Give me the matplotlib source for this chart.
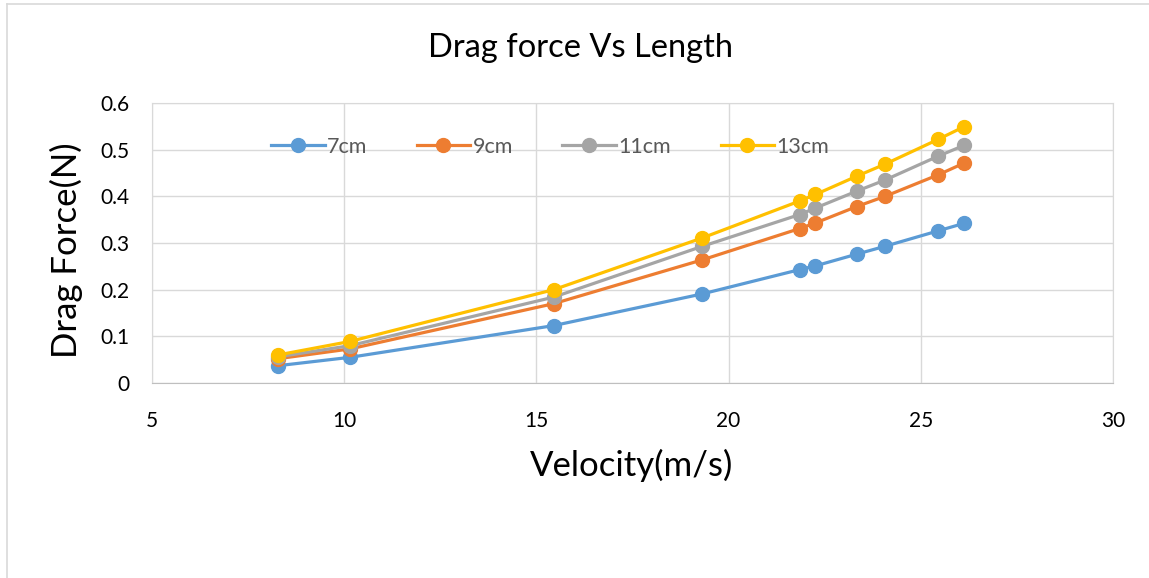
import matplotlib.pyplot as plt
from matplotlib.lines import Line2D

plt.rcParams['font.family'] = ['Lato', 'DejaVu Sans']

velocity = [8.27, 10.15, 15.45, 19.32, 21.85, 22.26, 23.33, 24.07, 25.45, 26.12]
drag_7cm = [0.037, 0.055, 0.123, 0.191, 0.243, 0.251, 0.276, 0.293, 0.326, 0.342]
drag_9cm = [0.052, 0.073, 0.170, 0.264, 0.331, 0.343, 0.378, 0.400, 0.446, 0.471]
drag_11cm = [0.056, 0.080, 0.184, 0.293, 0.361, 0.375, 0.411, 0.435, 0.486, 0.509]
drag_13cm = [0.060, 0.089, 0.200, 0.311, 0.390, 0.404, 0.443, 0.469, 0.522, 0.549]
labels = ['7cm', '9cm', '11cm', '13cm']
colors = ['#5B9BD5', '#ED7D31', '#A5A5A5', '#FFC000']

fig = plt.figure(figsize=(11.49, 5.78), dpi=100)
ax = fig.add_axes([152/1149, 1 - 383/578, (1113-152)/1149, (383-103)/578])

for ys, lab, c in zip([drag_7cm, drag_9cm, drag_11cm, drag_13cm], labels, colors):
    ax.plot(velocity, ys, color=c, lw=2.3, marker='o', ms=10, label=lab, zorder=3)

ax.set_xlim(5, 30)
ax.set_ylim(0, 0.6)
ax.set_xticks([5, 10, 15, 20, 25, 30])
ax.set_yticks([0, 0.1, 0.2, 0.3, 0.4, 0.5, 0.6])
ax.set_yticklabels(['0', '0.1', '0.2', '0.3', '0.4', '0.5', '0.6'])
ax.tick_params(length=0, labelsize=15, colors='black')
ax.tick_params(axis='x', pad=20)
ax.tick_params(axis='y', pad=16)
ax.grid(True, color='#d9d9d9', lw=1)
ax.set_axisbelow(True)
for s in ax.spines.values():
    s.set_color('#d9d9d9')
ax.spines['bottom'].set_color('#bfbfbf')

handles = [Line2D([], [], color=c, lw=2.3, marker='o', ms=10) for c in colors]
leg = ax.legend(handles, labels, ncol=4, frameon=False, loc='center',
                bbox_to_anchor=(550/1149, 1 - 147/578), bbox_transform=fig.transFigure,
                fontsize=15.5, handlelength=2.5, handletextpad=0.1, columnspacing=2.3)
for t in leg.get_texts():
    t.set_color('#595959')

fig.text(581/1149, 1 - 48/578, 'Drag force Vs Length', ha='center', va='center', fontsize=23.5)
fig.text(632/1149, 1 - 465/578, 'Velocity(m/s)', ha='center', va='center', fontsize=25)
fig.text(66/1149, 1 - 250/578, 'Drag Force(N)', ha='center', va='center', fontsize=25, rotation=90)

# outer chart border (left and top only visible)
fig.add_artist(Line2D([7/1149, 7/1149], [0, 1 - 4/578], color='#d9d9d9', lw=1.2, transform=fig.transFigure))
fig.add_artist(Line2D([7/1149, 1], [1 - 4/578, 1 - 4/578], color='#d9d9d9', lw=1.2, transform=fig.transFigure))

fig.savefig('out.png', dpi=100)
